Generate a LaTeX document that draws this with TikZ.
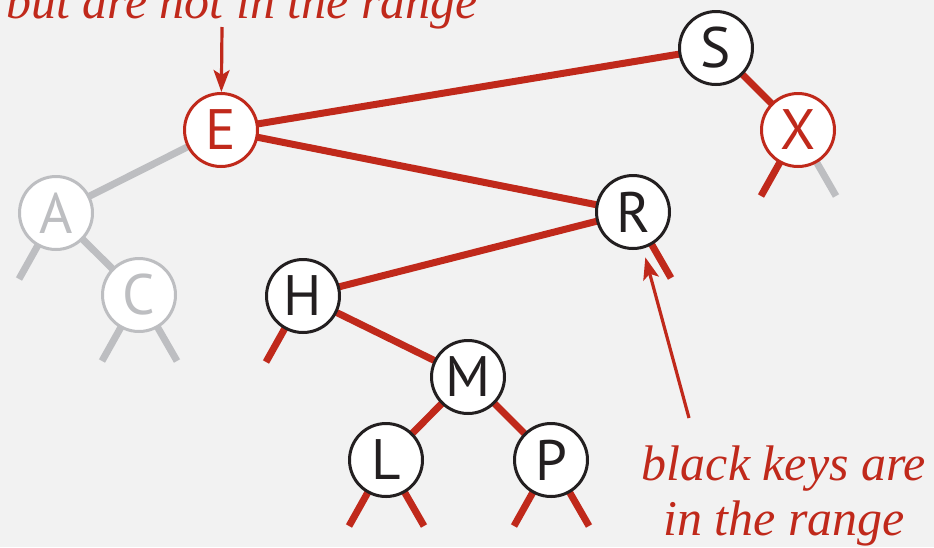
\documentclass[tikz,border=0pt]{standalone}
\usepackage{fontspec}
\setmainfont{Liberation Serif}
\newfontfamily\keyfont{PT Sans}
\usetikzlibrary{arrows.meta,backgrounds}
\definecolor{bookred}{RGB}{192,41,27}
\definecolor{lightgray}{RGB}{189,190,193}
\definecolor{bgcol}{RGB}{242,242,242}
\definecolor{keyblack}{RGB}{35,31,32}
\tikzset{
  keynode/.style={circle,draw=keyblack,fill=white,line width=3pt,minimum size=73pt,inner sep=0pt,
    font=\keyfont\fontsize{57}{57}\selectfont,text=keyblack},
  rednode/.style={keynode,draw=bookred,text=bookred},
  graynode/.style={keynode,draw=lightgray,text=lightgray},
  redlink/.style={draw=bookred,line width=7pt},
  graylink/.style={draw=lightgray,line width=7pt},
  notearrow/.style={draw=bookred,line width=3.2pt,-{Stealth[length=22pt,width=16pt,inset=5pt]}},
  notetext/.style={text=bookred,font=\itshape\fontsize{50}{55}\selectfont,inner sep=0pt}
}
\begin{document}
\begin{tikzpicture}[x=1pt,y=-1pt]
\useasboundingbox (0,0) rectangle (934,547);
\clip (0,0) rectangle (934,547);
\node[keynode]  (S) at (716,48)  {S};
\node[rednode]  (X) at (798,130) {X};
\node[rednode]  (E) at (221,130) {E};
\node[graynode] (A) at (56,213)  {A};
\node[graynode] (C) at (139,295) {C};
\node[keynode]  (R) at (633,212) {R};
\node[keynode]  (H) at (303,296) {H};
\node[keynode]  (M) at (468,377) {M};
\node[keynode]  (L) at (386,460) {L};
\node[keynode]  (P) at (551,460) {P};
\coordinate (Xl) at ([shift={(-37,66)}]X.center);
\coordinate (Xr) at ([shift={(38,66)}]X.center);
\coordinate (Al) at ([shift={(-37,66)}]A.center);
\coordinate (Cl) at ([shift={(-37,66)}]C.center);
\coordinate (Cr) at ([shift={(38,66)}]C.center);
\coordinate (Hl) at ([shift={(-37,66)}]H.center);
\coordinate (Rr) at ([shift={(38,66)}]R.center);
\coordinate (Ll) at ([shift={(-37,66)}]L.center);
\coordinate (Lr) at ([shift={(38,66)}]L.center);
\coordinate (Pl) at ([shift={(-37,66)}]P.center);
\coordinate (Pr) at ([shift={(38,66)}]P.center);
\coordinate (topnote) at (222,27);
\coordinate (blacknote) at (689,418);
\begin{pgfonlayer}{background}
  \fill[bgcol] (0,0) rectangle (934,547);
  \draw[redlink] (E.center) -- (S.center);
  \draw[redlink] (E.center) -- (R.center);
  \draw[redlink] (S.center) -- (X.center);
  \draw[redlink] (R.center) -- (H.center);
  \draw[redlink] (H.center) -- (M.center);
  \draw[redlink] (M.center) -- (L.center);
  \draw[redlink] (M.center) -- (P.center);
  \draw[graylink] (E.center) -- (A.center);
  \draw[graylink] (A.center) -- (C.center);
  \draw[redlink] (X.center) -- (Xl);
  \draw[graylink] (X.center) -- (Xr);
  \draw[graylink] (A.center) -- (Al);
  \draw[graylink] (C.center) -- (Cl);
  \draw[graylink] (C.center) -- (Cr);
  \draw[redlink] (H.center) -- (Hl);
  \draw[redlink] (R.center) -- (Rr);
  \draw[redlink] (L.center) -- (Ll);
  \draw[redlink] (L.center) -- (Lr);
  \draw[redlink] (P.center) -- (Pl);
  \draw[redlink] (P.center) -- (Pr);
\end{pgfonlayer}
\draw[notearrow] (topnote) -- (E);
\draw[notearrow,shorten >=9pt] (blacknote) -- (R);
\node[notetext,anchor=base east] (topline) at (478,18) {but are not in the range};
\node[notetext,anchor=base] (blackline1) at (784,480) {black keys are};
\node[notetext,anchor=base] (blackline2) at (784,535) {in the range};
\end{tikzpicture}
\end{document}
